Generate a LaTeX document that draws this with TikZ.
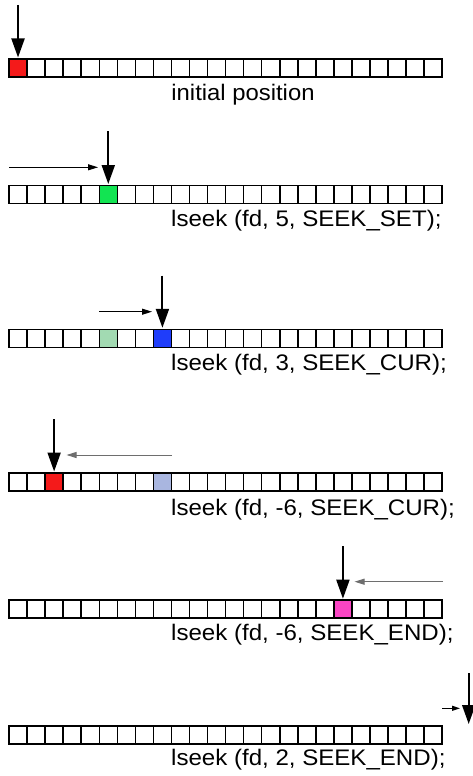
\documentclass[tikz,border=0pt]{standalone}
\usepackage{fontspec}
\setmainfont{Liberation Sans}
\usetikzlibrary{arrows.meta}
\definecolor{cred}{HTML}{F41A1A}
\definecolor{cgreen}{HTML}{12E452}
\definecolor{cpalegreen}{HTML}{A2DAB2}
\definecolor{cblue}{HTML}{1F3DFA}
\definecolor{cpaleblue}{HTML}{A9B6E0}
\definecolor{cpink}{HTML}{FA45C4}
\definecolor{cgray}{HTML}{6E6E6E}
\tikzset{
  cell/.style={draw=black, line width=1.5pt, minimum width=18.05pt, minimum height=18pt, inner sep=0pt, outer sep=0pt, fill=white},
  bigarrow/.style={line width=2pt, -{Triangle[width=13pt,length=19pt]}, shorten >=1.5pt},
  smallarrow/.style={line width=1pt, -{Triangle[width=6pt,length=10pt]}},
  grayarrow/.style={smallarrow, draw=cgray, color=cgray},
  caption/.style={anchor=base west, inner sep=0pt, font=\fontsize{22.5}{26}\selectfont}
}
\newcommand{\cellrow}[2]{%
  \foreach \i in {0,...,23} {
    \node[cell] (r#1c\i) at ({9+18.05*(\i+0.5)},{#2}) {};
  }%
}
\begin{document}
\begin{tikzpicture}[x=1pt,y=-1pt]
\useasboundingbox (0,0) rectangle (472,776);
% Row 1
\cellrow{1}{68}
\node[cell, fill=cred] at (r1c0) {};
\coordinate (v1) at (r1c0.center |- 0,5);
\draw[bigarrow] (v1) -- (r1c0.north);
\node[caption, anchor=base] (t1) at (243,100.7) {\scalebox{1.06}[1]{initial position}};
% Row 2
\cellrow{2}{194.5}
\node[cell, fill=cgreen] at (r2c5) {};
\coordinate (v2) at (r2c5.center |- 0,131);
\draw[bigarrow] (v2) -- (r2c5.north);
\coordinate (h2a) at (9,167.3);
\coordinate (h2b) at (98,167.3);
\draw[smallarrow] (h2a) -- (h2b);
\node[caption] (t2) at (171,226.7) {\scalebox{1.07}[1]{lseek (fd, 5, SEEK\_SET);}};
% Row 3
\cellrow{3}{338.3}
\node[cell, fill=cpalegreen] at (r3c5) {};
\node[cell, fill=cblue] at (r3c8) {};
\coordinate (v3) at (r3c8.center |- 0,275.7);
\draw[bigarrow] (v3) -- (r3c8.north);
\coordinate (h3a) at (99.3,311.7);
\coordinate (h3b) at (152,311.7);
\draw[smallarrow] (h3a) -- (h3b);
\node[caption] (t3) at (171,370.7) {\scalebox{1.07}[1]{lseek (fd, 3, SEEK\_CUR);}};
% Row 4
\cellrow{4}{482}
\node[cell, fill=cred] at (r4c2) {};
\node[cell, fill=cpaleblue] at (r4c8) {};
\coordinate (v4) at (r4c2.center |- 0,419.3);
\draw[bigarrow] (v4) -- (r4c2.north);
\coordinate (h4a) at (172,455);
\coordinate (h4b) at (66.5,455);
\draw[grayarrow] (h4a) -- (h4b);
\node[caption] (t4) at (171,515.7) {\scalebox{1.07}[1]{lseek (fd, -6, SEEK\_CUR);}};
% Row 5
\cellrow{5}{609.2}
\node[cell, fill=cpink] at (r5c18) {};
\coordinate (v5) at (r5c18.center |- 0,546);
\draw[bigarrow] (v5) -- (r5c18.north);
\coordinate (h5a) at (443,581.7);
\coordinate (h5b) at (354.5,581.7);
\draw[grayarrow] (h5a) -- (h5b);
\node[caption] (t5) at (171,640.7) {\scalebox{1.07}[1]{lseek (fd, -6, SEEK\_END);}};
% Row 6
\cellrow{6}{735}
\coordinate (v6a) at (468.7,673.3);
\coordinate (v6b) at (468.7,725.5);
\draw[bigarrow] (v6a) -- (v6b);
\coordinate (h6a) at (442,708.3);
\coordinate (h6b) at (460,708.3);
\draw[smallarrow, -{Triangle[width=5pt,length=8pt]}] (h6a) -- (h6b);
\node[caption] (t6) at (171,765) {\scalebox{1.07}[1]{lseek (fd, 2, SEEK\_END);}};
\end{tikzpicture}
\end{document}
